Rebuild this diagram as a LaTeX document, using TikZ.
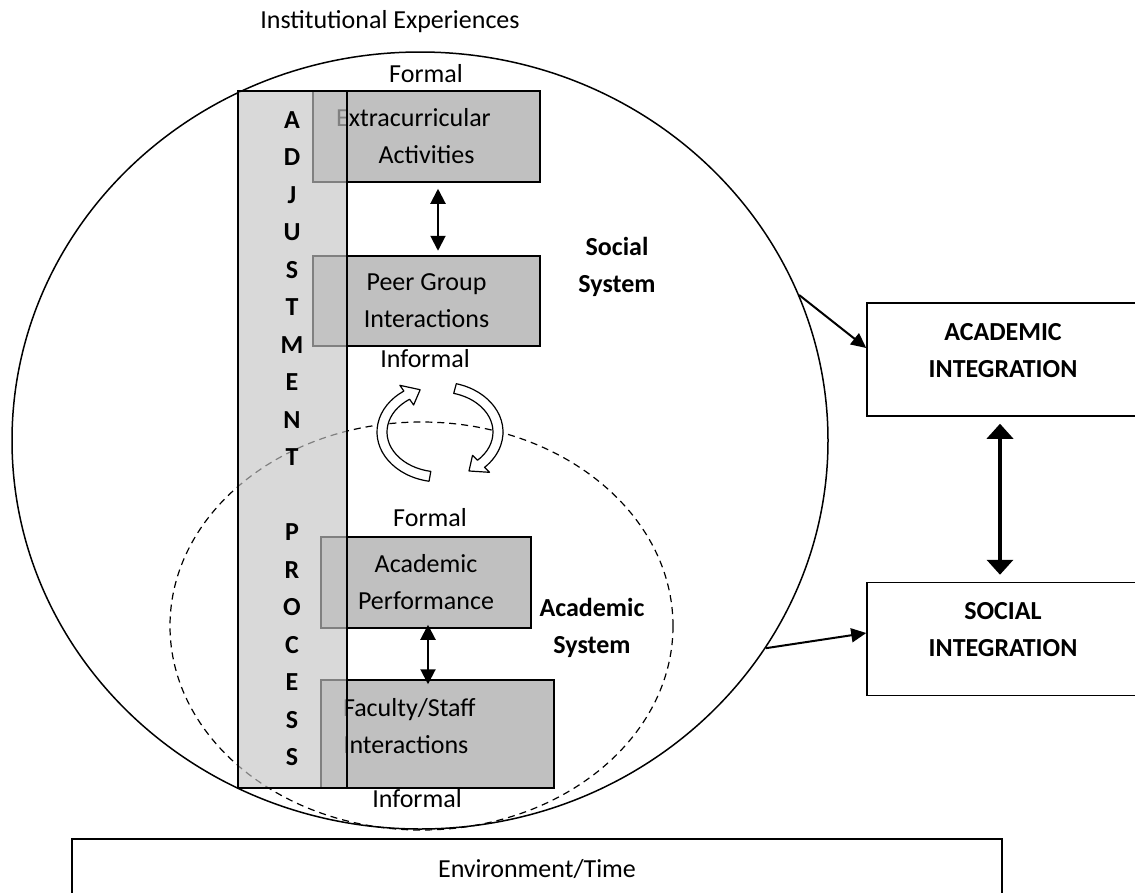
\documentclass[tikz,border=0pt]{standalone}
\usepackage{fontspec}
\setmainfont{Carlito}
\usetikzlibrary{arrows.meta,shapes.geometric}
\definecolor{boxgray}{HTML}{C0C0C0}
\definecolor{adjgray}{HTML}{C5C5C5}
\tikzset{
  every node/.style={font=\fontsize{26}{37}\selectfont},
  sysbox/.style={draw, line width=1.5pt, fill=boxgray, inner sep=0pt, align=center},
  intbox/.style={draw, line width=1.5pt, fill=white, align=center, minimum width=272pt,
    minimum height=113pt, text depth=19pt, font=\fontsize{26}{37}\selectfont\bfseries},
  sysname/.style={align=center, font=\fontsize{26}{37}\selectfont\bfseries},
  adjletter/.style={font=\fontsize{26}{37}\selectfont\bfseries},
  dblarrow/.style={{Triangle[width=15pt,length=15pt]}-{Triangle[width=15pt,length=15pt]}, line width=2pt},
  bigarrow/.style={{Triangle[width=26pt,length=15pt]}-{Triangle[width=26pt,length=15pt]}, line width=4.5pt},
  onearrow/.style={-{Triangle[width=14pt,length=15pt]}, line width=2pt},
  cyclearrow/.style={draw, fill=white, line width=1.2pt, line join=round}
}
\begin{document}
\begin{tikzpicture}[x=1pt,y=-1pt]
    \useasboundingbox (0,0) rectangle (1135,892);
    \node[draw, ellipse, dash pattern=on 7pt off 5pt, line width=1.2pt, minimum width=503pt, minimum height=408pt] (AcadSys) at (421.5,626) {};
    \node[draw, ellipse, line width=1.5pt, minimum width=816pt, minimum height=777pt] (Inst) at (420,440.5) {};
    %
    \node[sysbox, minimum width=227pt, minimum height=91pt] (Extra) at (426.5,136.5) {\hspace*{-26pt}Extracurricular\\Activities};
    \node[sysbox, minimum width=227pt, minimum height=90pt] (Peer) at (426.5,301) {Peer Group\\Interactions};
    \node[sysbox, minimum width=210pt, minimum height=91pt] (Perf) at (426,582.5) {Academic\\Performance};
    \node[sysbox, minimum width=233pt, minimum height=108pt, inner xsep=22pt, text width=189pt, align=left, text depth=53pt] (Faculty) at (437.5,734) {Faculty/Staff\\Interactions};
    %
    \node[draw, line width=1.5pt, fill=adjgray, fill opacity=0.65, inner sep=0pt, minimum width=109pt, minimum height=697pt] (Adjust) at (292.5,439.5) {};
    \foreach \ch [count=\i from 0] in {A,D,J,U,S,T,M,E,N,T,{},P,R,O,C,E,S,S}
      \node[adjletter] (Adj\i) at (292,{120+37.5*\i}) {\ch};
    %
    \begin{scope}[shift={(440,432)}]
      \draw[cyclearrow] (100:63 and 50) arc[start angle=100, end angle=235, x radius=63, y radius=50]
        -- (235:70 and 57) -- (250:58 and 45) -- (235:46 and 33) -- (235:53 and 40)
        arc[start angle=235, end angle=100, x radius=53, y radius=40] -- cycle;
      \draw[cyclearrow] (285:63 and 50) arc[start angle=285, end angle=405, x radius=63, y radius=50]
        -- (405:70 and 57) -- (420:58 and 45) -- (405:46 and 33) -- (405:53 and 40)
        arc[start angle=405, end angle=285, x radius=53, y radius=40] -- cycle;
    \end{scope}
    %
    \node at (390,22) (InstLabel) {Institutional Experiences};
    \node at (426,74) (FormalTop) {Formal};
    \node at (425,359) (InformalTop) {Informal};
    \node at (430,518) (FormalBot) {Formal};
    \node at (417,799) (InformalBot) {Informal};
    \node[sysname] at (617,267) (SocSys) {Social\\System};
    \node[sysname] at (592,628) (AcaSys) {Academic\\System};
    %
    \node[intbox] (AcadInt) at (1003,359.5) {ACADEMIC\\INTEGRATION};
    \node[intbox] (SocInt) at (1003,639) {SOCIAL\\INTEGRATION};
    \node[draw, line width=1.5pt, minimum width=930pt, minimum height=60pt] (Env) at (537,869) {Environment/Time};
    %
  	\draw[dblarrow, shorten <=6pt, shorten >=4.5pt] ([xshift=11.5pt]Extra.south) -- ([xshift=11.5pt]Peer.north);
  	\draw[dblarrow, shorten <=-4pt, shorten >=-5pt] ([xshift=2pt]Perf.south) -- ([xshift=-9.5pt]Faculty.north);
  	\draw[bigarrow, shorten <=7pt, shorten >=7pt] ([xshift=-3pt]AcadInt.south) -- ([xshift=-3pt]SocInt.north);
  	%
  	\draw[onearrow] (Inst.21) -- ([yshift=11.5pt]AcadInt.west);
  	\draw[onearrow] (Inst.-31) -- ([yshift=6pt]SocInt.west);
\end{tikzpicture}
\end{document}
